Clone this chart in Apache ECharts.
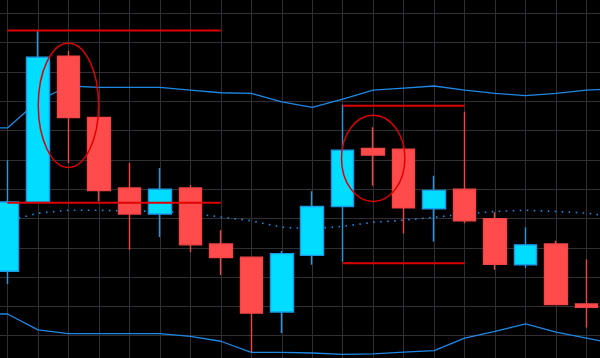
<!DOCTYPE html>
<html><head><meta charset="utf-8">
<script src="https://cdn.jsdelivr.net/npm/echarts@6/dist/echarts.min.js"></script>
<style>html,body{margin:0;padding:0;background:#000;overflow:hidden;width:600px;height:358px;position:relative;}
#c{position:absolute;left:-23px;top:-16px;width:640px;height:381px;}</style>
</head><body><div id="c"></div>
<script>
// Candle periods (x positions, in bar index units)
const periods = [0,1,2,3,4,5,6,7,8,9,10,11,12,13,14,15,16,17,18,19];
const opens  = [32.0, 55.6, 105.4, 84.5, 60.4, 51.5, 60.4, 41.3, 36.8, 18.1, 37.4, 54.1, 73.9, 73.6, 53.3, 60.0, 49.9, 34.2, 41.3, 20.8];
const closes = [55.6, 105.0, 84.4, 59.5, 51.5, 60.0, 41.0, 36.7, 17.7, 38.0, 54.1, 73.3, 71.6, 53.6, 59.6, 49.2, 34.4, 41.0, 20.6, 19.7];
const lows   = [27.6, 55.6, 68.8, 55.9, 39.3, 43.7, 38.5, 30.7, 4.4, 10.9, 34.2, 35.2, 61.2, 44.9, 42.1, 48.4, 32.5, 33.1, 20.4, 12.8];
const highs  = [69.9, 114.1, 107.1, 84.5, 68.9, 67.2, 61.4, 46.0, 36.8, 38.9, 59.3, 88.9, 81.1, 74.5, 64.6, 86.4, 52.1, 47.0, 42.4, 36.0];

// Bollinger bands (include one period before and after the visible candles)
const bandPeriods = [-1,0,1,2,3,4,5,6,7,8,9,10,11,12,13,14,15,16,17,18,19,20];
const upperBand  = [80.9, 80.9, 90.1, 95.2, 94.7, 94.7, 94.7, 93.8, 92.9, 92.7, 89.8, 87.9, 90.7, 93.8, 94.5, 95.2, 93.8, 92.7, 91.9, 92.7, 93.8, 94.3];
const middleBand = [48.8, 49.1, 51.8, 52.8, 52.8, 52.5, 52.5, 51.8, 50.5, 49.2, 47.0, 46.5, 47.3, 48.7, 49.4, 50.4, 51.5, 52.4, 52.8, 52.4, 51.8, 50.5];
const lowerBand  = [17.4, 17.4, 12.0, 10.7, 10.7, 10.7, 10.7, 9.8, 8.1, 4.3, 4.3, 4.1, 3.6, 3.8, 4.4, 4.9, 9.2, 11.5, 14.0, 11.2, 9.2, 7.1];

// Horizontal annotation levels: [fromPeriod, toPeriod, level]
const levelLines = [[0, 7, 114.1], [0, 7, 55.4], [11, 15, 88.5], [11, 15, 34.7]];
// Ellipse annotations: [centerPeriod, centerLevel, radiusPeriods, radiusLevel]
const ellipses = [[2, 88.6, 0.99, 21.2], [12, 70.5, 1.04, 14.7]];

const candleData = periods.map((p, i) => [p, opens[i], closes[i], lows[i], highs[i]]);
const zipBand = arr => bandPeriods.map((p, i) => [p, arr[i]]);

const series = [
  { type: 'line', data: zipBand(upperBand), showSymbol: false, symbol: 'none', z: 1,
    lineStyle: { color: '#1E88E5', width: 1.3 } },
  { type: 'line', data: zipBand(lowerBand), showSymbol: false, symbol: 'none', z: 1,
    lineStyle: { color: '#1E88E5', width: 1.3 } },
  { type: 'line', data: zipBand(middleBand), showSymbol: false, symbol: 'none', z: 1,
    lineStyle: { color: '#1E88E5', width: 1.6, type: [1.6, 5.4] } },
  { type: 'candlestick', data: candleData, barWidth: 23, z: 3,
    itemStyle: { color: '#00DDFF', color0: '#FF4B4B', borderColor: '#1A9BE8', borderColor0: '#F24646', borderWidth: 1.4 } }
];
levelLines.forEach(l => {
  series.push({ type: 'line', data: [[l[0], l[2]], [l[1], l[2]]], showSymbol: false, symbol: 'none', z: 5,
    lineStyle: { color: '#DD0000', width: 2 } });
});
series.push({
  type: 'custom', data: ellipses, z: 6, encode: { x: 0, y: 1 },
  renderItem: (params, api) => {
    const c = api.coord([api.value(0), api.value(1)]);
    const s = api.size([api.value(2), api.value(3)]);
    return { type: 'ellipse', shape: { cx: c[0], cy: c[1], rx: s[0], ry: s[1] },
      style: { fill: 'none', stroke: '#E00000', lineWidth: 1.5 } };
  }
});

const chart = echarts.init(document.getElementById('c'), null, { renderer: 'canvas' });
chart.setOption({
  backgroundColor: '#000000',
  animation: false,
  grid: { left: 0, right: 0, top: 0, bottom: 0, containLabel: false },
  xAxis: { type: 'value', min: -1, max: 20, interval: 1,
    axisLine: { show: false }, axisTick: { show: false }, axisLabel: { show: false },
    splitLine: { show: true, lineStyle: { color: '#303034', width: 1 } } },
  yAxis: { type: 'value', min: 0, max: 130, interval: 10,
    axisLine: { show: false }, axisTick: { show: false }, axisLabel: { show: false },
    splitLine: { show: true, lineStyle: { color: '#303034', width: 1 } } },
  series: series
});
</script>
</body></html>
